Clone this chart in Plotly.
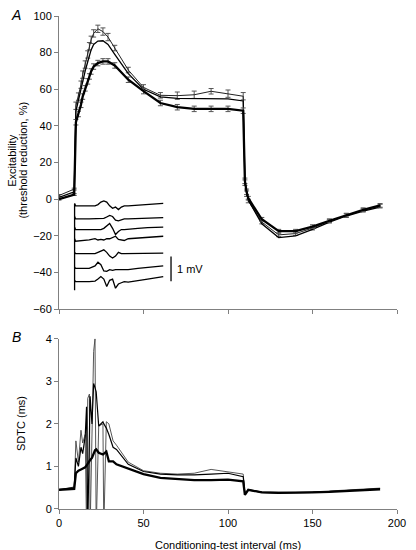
import plotly.graph_objects as go

# ---------------- Panel A data (threshold electrotonus-like) ----------------
interval_a = [0, 9, 10, 11.5, 13, 14, 15.5, 17, 18, 19, 20.5, 23, 26, 29, 33, 41, 50,
              60, 70, 80, 90, 100, 109, 110, 111, 112, 120, 130, 140, 150, 160, 170, 180, 190]
excit_top = [2, 5.5, 51, 56, 62.5, 68, 73.5, 79, 83.5, 87, 90.5, 93, 91.5, 88.5, 82.5, 70.5, 61,
             56.7, 56.5, 57, 58.9, 57.6, 56.2, 9, 3, -1, -12.5, -19.5, -18.8, -15.8, -12, -9, -6, -3.8]
excit_top_err = [0.5, 0.5, 2, 2, 2, 2, 2, 2, 2, 2, 2, 2, 2, 2, 1.5, 1.5, 1.5,
                 1.5, 2, 2, 1.5, 2, 2, 1.5, 1.5, 1, 1, 1, 1, 1, 1, 1, 1, 1]
excit_mid = [1, 4, 48, 54, 60, 65, 70, 75, 78.5, 81.5, 84.5, 86.3, 86.5, 84.5, 79, 68.5, 60,
             55.8, 55, 54.9, 54.9, 54.8, 53.6, 9.5, 3.5, -0.5, -13.5, -21, -20, -16.5, -12.5, -9.2, -6.6, -4.3]
excit_thick = [0, 2.5, 42, 46.5, 51.5, 56, 60.5, 64.3, 67, 69.7, 72.4, 74.3, 75.2, 75.2, 73, 65.2, 59,
               52.5, 50.2, 49.3, 49.3, 49.3, 48.3, 10, 4, 0.5, -11, -17.5, -17.5, -15, -11.8, -8.7, -5.8, -3.4]
excit_thick_err = [0.5, 0.5, 1.5, 1.5, 1.5, 1.5, 1.5, 1.5, 1.5, 1.5, 1.5, 1.5, 1.5, 1.5, 1.5, 1.5, 1.5,
                   1.5, 1.5, 1.5, 1.5, 1.5, 1.5, 1.5, 1.5, 1, 1, 1, 1, 1, 1, 1, 1, 1]

# ---------------- Panel B data (SDTC) ----------------
interval_b = [0, 9, 10, 11.5, 13, 14, 15.5, 16.3, 17, 18, 18.4, 19.5, 20.5, 21.3, 22, 23.5, 26, 26.5,
              28, 29.5, 32, 34, 41, 50, 60, 70, 80, 90, 100, 109, 110, 112, 120, 130, 140, 150,
              160, 170, 180, 190]
sdtc_thin1 = [0.44, 0.52, 1.6, 1.1, 1.85, 1.55, 1.75, -0.5, 2.6, 2.7, -0.5, 1.8, 3.7, 4.0, -0.5, 1.95, 2.0, -0.5,
              2.05, 2.0, 1.6, 1.5, 1.1, 0.9, 0.84, 0.82, 0.84, 0.93, 0.88, 0.82, 0.35, 0.46, 0.4, 0.39, 0.39, 0.4,
              0.42, 0.44, 0.46, 0.49]
sdtc_thin2 = [0.46, 0.5, 1.2, 1.0, 1.45, 1.3, 1.7, 2.4, -0.5, 2.6, 2.65, 2.0, 2.95, 2.85, 2.75, 1.95, 2.05, 2.0,
              1.9, 1.75, 1.45, 1.4, 1.05, 0.88, 0.82, 0.8, 0.8, 0.82, 0.84, 0.76, 0.36, 0.45, 0.39, 0.38, 0.38, 0.39,
              0.41, 0.43, 0.45, 0.48]
sdtc_thick = [0.45, 0.47, 0.84, 0.9, 0.93, 0.95, 0.98, 1.02, 1.07, 1.12, 1.15, 1.2, 1.3, 1.38, 1.4, 1.32, 1.28, 1.3,
              1.35, 1.12, 1.12, 1.05, 0.95, 0.82, 0.73, 0.7, 0.68, 0.68, 0.69, 0.65, 0.33, 0.45, 0.39, 0.38, 0.38, 0.39,
              0.4, 0.42, 0.44, 0.46]

# ---------------- Inset (CMAP traces, mV) ----------------
trace_time = [5, 6, 20, 26, 29, 32, 35, 38, 41, 44, 47, 50, 53, 56, 60, 70, 80, 96]
trace_baselines = [-0.31, -0.84, -1.27, -1.69, -2.24, -2.84, -3.37]
trace_1 = [0.1, 0, 0, 0, 0.05, 0.15, 0.2, 0.15, 0.0, -0.1, -0.05, -0.15, -0.05, 0, 0, 0.02, 0.05, 0.1]
trace_2 = [0.1, 0, 0, 0, 0, 0, 0.02, 0.08, 0.14, 0.1, -0.05, -0.08, -0.05, 0, 0, 0.02, 0.03, 0.05]
trace_3 = [0.1, 0, 0, 0, 0, 0, 0.05, 0.15, 0.25, 0.05, -0.2, -0.08, 0, 0, 0.02, 0.05, 0.08, 0.1]
trace_4 = [0.05, -0.05, 0, 0.05, 0, 0.02, 0, 0.05, 0.05, 0.1, 0.15, 0.02, 0, -0.02, 0.05, 0.08, 0.1, 0.15]
trace_5 = [0.05, 0, 0, 0, 0.05, 0.1, 0.15, 0.05, -0.1, -0.18, -0.1, 0.05, 0, 0, 0, 0, 0, 0.02]
trace_6 = [0.05, 0, 0, 0.1, 0.25, 0.15, -0.1, -0.12, -0.05, -0.08, -0.05, -0.05, -0.08, -0.05, -0.05, 0, 0.05, 0.1]
trace_7 = [0.05, 0, 0, 0.02, 0.1, 0.2, 0.1, -0.2, 0.05, 0.1, -0.27, -0.1, -0.05, 0, -0.02, 0.05, 0.1, 0.2]
traces = [trace_1, trace_2, trace_3, trace_4, trace_5, trace_6, trace_7]
artifact_time = [5, 5]
artifact_mv = [-0.23, -3.72]
scalebar_time = [104, 104]
scalebar_mv = [-2.36, -3.36]

x_ticks = [0, 50, 100, 150, 200]
ya_ticks = [-60, -40, -20, 0, 20, 40, 60, 80, 100]
yb_ticks = [0, 1, 2, 3, 4]

FONT = "Arial, Liberation Sans, sans-serif"
AXC = "#808080"

fig = go.Figure()

# Panel A
fig.add_trace(go.Scatter(x=interval_a, y=excit_top, mode="lines", xaxis="x2", yaxis="y2",
                         line=dict(color="#222", width=1),
                         error_y=dict(type="data", array=excit_top_err, color="#555", thickness=1, width=2.5)))
fig.add_trace(go.Scatter(x=interval_a, y=excit_mid, mode="lines", xaxis="x2", yaxis="y2",
                         line=dict(color="#000", width=1.3)))
fig.add_trace(go.Scatter(x=interval_a, y=excit_thick, mode="lines", xaxis="x2", yaxis="y2",
                         line=dict(color="#000", width=2.3),
                         error_y=dict(type="data", array=excit_thick_err, color="#555", thickness=1, width=2.5)))

# Panel B
fig.add_trace(go.Scatter(x=interval_b, y=sdtc_thin1, mode="lines", xaxis="x", yaxis="y",
                         line=dict(color="#444", width=0.9)))
fig.add_trace(go.Scatter(x=interval_b, y=sdtc_thin2, mode="lines", xaxis="x", yaxis="y",
                         line=dict(color="#000", width=1.2)))
fig.add_trace(go.Scatter(x=interval_b, y=sdtc_thick, mode="lines", xaxis="x", yaxis="y",
                         line=dict(color="#000", width=2.3)))

# Inset traces
for base, tr in zip(trace_baselines, traces):
    fig.add_trace(go.Scatter(x=trace_time, y=[base + v for v in tr], mode="lines",
                             xaxis="x3", yaxis="y3", line=dict(color="#000", width=1.3)))
fig.add_trace(go.Scatter(x=artifact_time, y=artifact_mv, mode="lines", xaxis="x3", yaxis="y3",
                         line=dict(color="#000", width=1.3)))
fig.add_trace(go.Scatter(x=scalebar_time, y=scalebar_mv, mode="lines", xaxis="x3", yaxis="y3",
                         line=dict(color="#000", width=1.3)))

axis_common = dict(showline=True, linecolor=AXC, linewidth=1, ticks="outside", ticklen=4,
                   tickcolor=AXC, showgrid=False, zeroline=False,
                   tickfont=dict(family=FONT, size=11, color="#000"))

fig.update_layout(
    width=416, height=550,
    margin=dict(l=59, r=10, t=11, b=41),
    paper_bgcolor="white", plot_bgcolor="white",
    showlegend=False,
    font=dict(family=FONT, size=11, color="#000"),
    xaxis=dict(domain=[0, 1], range=[0, 200], anchor="y", tickvals=x_ticks, **axis_common),
    yaxis=dict(domain=[0, 0.3454], range=[0, 4], anchor="x", tickvals=yb_ticks, **axis_common),
    xaxis2=dict(domain=[0, 1], range=[0, 200], anchor="y2", tickvals=x_ticks, showticklabels=False,
                **axis_common),
    yaxis2=dict(domain=[0.4056, 1], range=[-60, 100], anchor="x2", tickvals=ya_ticks, **axis_common),
    xaxis3=dict(domain=[0.0317, 0.4352], range=[0, 140], anchor="y3", visible=False),
    yaxis3=dict(domain=[0.4398, 0.6305], range=[-3.8, 0], anchor="x3", visible=False),
)

ann = [
    dict(text="<i>A</i>", x=-0.127, y=1.002, size=14),
    dict(text="<i>B</i>", x=-0.127, y=0.349, size=14),
]
for a in ann:
    fig.add_annotation(text=a["text"], x=a["x"], y=a["y"], xref="paper", yref="paper",
                       showarrow=False, xanchor="center", yanchor="middle",
                       font=dict(family=FONT, size=a["size"], color="#000"))

fig.add_annotation(text="Excitability", x=-0.138, y=0.707, xref="paper", yref="paper",
                   textangle=-90, showarrow=False, xanchor="center", yanchor="middle",
                   font=dict(family=FONT, size=11, color="#000"))
fig.add_annotation(text="(threshold reduction, %)", x=-0.106, y=0.707, xref="paper", yref="paper",
                   textangle=-90, showarrow=False, xanchor="center", yanchor="middle",
                   font=dict(family=FONT, size=11, color="#000"))
fig.add_annotation(text="SDTC (ms)", x=-0.112, y=0.1727, xref="paper", yref="paper",
                   textangle=-90, showarrow=False, xanchor="center", yanchor="middle",
                   font=dict(family=FONT, size=11, color="#000"))
fig.add_annotation(text="Conditioning-test interval (ms)", x=0.4986, y=-0.0723, xref="paper", yref="paper",
                   showarrow=False, xanchor="center", yanchor="middle",
                   font=dict(family=FONT, size=11, color="#000"))
fig.add_annotation(text="1 mV", x=108, y=-2.88, xref="x3", yref="y3", showarrow=False,
                   xanchor="left", yanchor="middle", font=dict(family=FONT, size=11, color="#000"))

# remove the browser's default 8px body margin so the figure fills the window exactly
fig.write_html("out.html",
               config={"displayModeBar": False, "staticPlot": True},
               post_script="document.body.style.margin='0';document.body.style.padding='0';")
